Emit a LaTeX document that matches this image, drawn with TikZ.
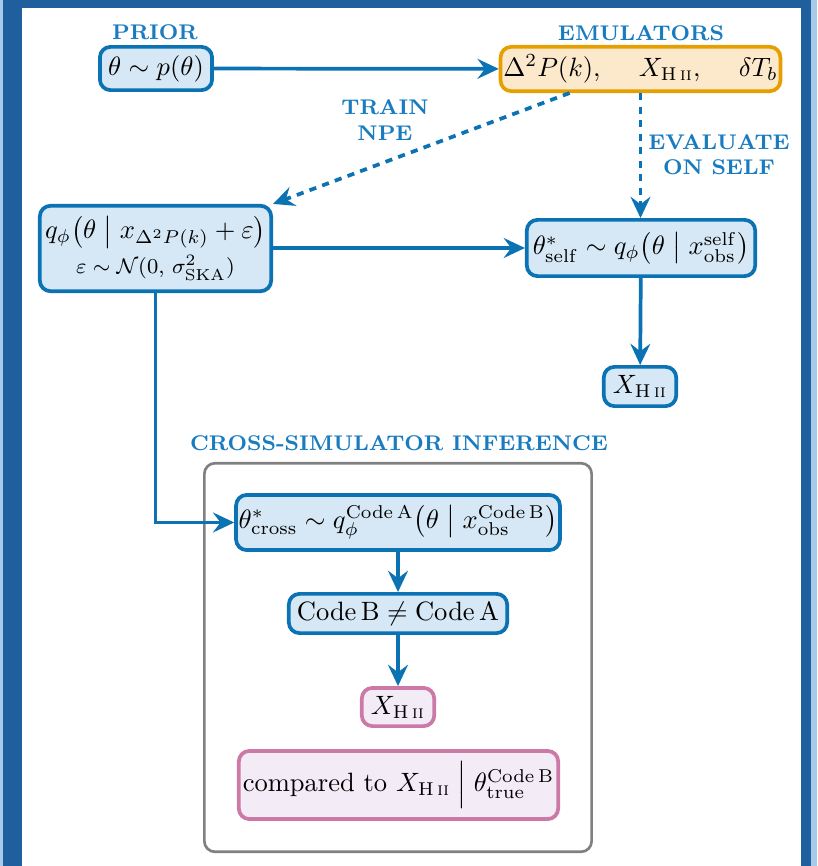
\documentclass[tikz,border=0pt]{standalone}
\usepackage{amsmath}
\usetikzlibrary{arrows.meta,calc}
\definecolor{framedark}{HTML}{1F5F9E}
\definecolor{framelight}{HTML}{A7CAEB}
\definecolor{nblue}{HTML}{0B72B4}
\definecolor{lblue}{HTML}{1A7CC0}
\definecolor{nfill}{HTML}{D6E8F5}
\definecolor{norange}{HTML}{E69F00}
\definecolor{ofill}{HTML}{FCE9CC}
\definecolor{npink}{HTML}{CC79A7}
\definecolor{pfill}{HTML}{F3EBF6}
\definecolor{cgray}{HTML}{808080}
\newcommand{\HII}{\mathrm{H}\,\textsc{ii}}
\begin{document}
\begin{tikzpicture}[x=0.377pt,y=-0.377pt,
  box/.style={draw=nblue,fill=nfill,line width=1.4pt,rounded corners=4pt,inner sep=1pt,align=center},
  obox/.style={box,draw=norange,fill=ofill},
  pbox/.style={box,draw=npink,fill=pfill},
  container/.style={draw=cgray,line width=1pt,rounded corners=4pt,fill=none},
  lbl/.style={text=lblue,font=\bfseries\footnotesize,align=center,inner sep=0pt},
  arr/.style={draw=nblue,line width=1.4pt,-{Stealth[length=8pt,width=7.5pt,inset=2.8pt]}},
  darr/.style={arr,dash pattern=on 2.7pt off 2.4pt}
]
\useasboundingbox (0,0) rectangle (817,866);
% frame
\fill[framelight] (0,0) rectangle (817,866);
\fill[framedark] (3,0) rectangle (811,866);
\fill[white] (22,8) rectangle (801,866);

% container
\node[container,minimum width=146pt,minimum height=146.5pt] (cont) at (398,657.5) {};
\node[lbl] (lcross) at (399,443) {CROSS-SIMULATOR INFERENCE};

% nodes
\node[box,minimum width=42.3pt,minimum height=16.3pt] (prior) at (156,68.5) {$\theta\sim p(\theta)$};
\node[lbl] (lprior) at (155,32) {PRIOR};
\node[obox,minimum width=103pt,minimum height=16.7pt] (emu) at (640.5,69) {$\Delta^2P(k),\quad\;X_{\HII},\quad\;\delta T_b$};
\node[lbl] (lemu) at (641,33) {EMULATORS};
\node[box,minimum width=87.2pt,minimum height=32.2pt] (q) at (155.5,248.5)
  {$q_\phi\bigl(\theta\;\big|\;x_{\Delta^2P(k)}+\varepsilon\bigr)$\\[1pt]
   {\footnotesize$\varepsilon\sim\mathcal{N}(0,\,\sigma^2_{\mathrm{SKA}})$}};
\node[box,minimum width=86.1pt,minimum height=21.2pt] (self) at (641,248)
  {$\theta^*_{\mathrm{self}}\sim q_\phi\!\left(\theta\;\middle|\;x^{\mathrm{self}}_{\mathrm{obs}}\right)$};
\node[box,minimum width=27.3pt,minimum height=14.8pt] (xself) at (640,386.5) {$X_{\HII}$};
\node[box,minimum width=120.7pt,minimum height=20.8pt] (cross) at (398,522.5)
  {$\theta^*_{\mathrm{cross}}\sim q_\phi^{\mathrm{Code\,A}}\!\left(\theta\;\middle|\;x^{\mathrm{Code\,B}}_{\mathrm{obs}}\right)$};
\node[box,minimum width=82.3pt,minimum height=14.8pt] (codeb) at (398,613.5) {$\mathrm{Code\,B}\neq\mathrm{Code\,A}$};
\node[pbox,minimum width=27.3pt,minimum height=14.4pt] (xcross) at (398,707) {$X_{\HII}$};
\node[pbox,minimum width=120.4pt,minimum height=25.7pt] (comp) at (398.5,785)
  {compared to $X_{\HII}\;\Big|\;\theta^{\mathrm{Code\,B}}_{\mathrm{true}}$};

% labels on arrows
\node[lbl] (ltrain) at (385,120) {TRAIN\\NPE};
\node[lbl] (leval) at (719,155) {EVALUATE\\ON SELF};

% connectors
\draw[arr] (prior) -- (emu);
\coordinate (emuA) at ($(emu.south west)!0.25!(emu.south east)$);
\draw[darr] (emuA) -- (q.north east);
\draw[darr] (emu.south) -- (emu.south |- self.north);
\draw[arr] (q.east |- self.west) -- (self.west);
\draw[arr] (self) -- (xself);
\draw[arr] (q.south) |- (cross.west);
\draw[arr] (cross) -- (codeb);
\draw[arr] (codeb) -- (xcross);
\end{tikzpicture}
\end{document}
